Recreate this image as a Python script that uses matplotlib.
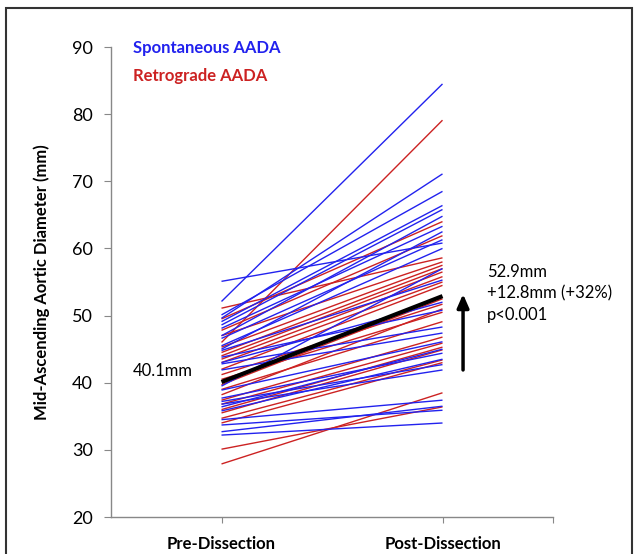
import matplotlib.pyplot as plt
from matplotlib.patches import Rectangle

# Diameters (mm), pre -> post, one pair per patient
SPONT_PRE = [55.1, 52.1, 50.1, 49.6, 49.1, 48.6, 48.1, 47.0, 46.6, 45.5, 45.0, 44.8,
             43.8, 43.0, 42.8, 41.9, 39.5, 38.9, 37.7, 37.2, 36.8, 36.4, 35.8, 34.5,
             33.7, 32.7, 32.2]
SPONT_POST = [60.8, 84.5, 68.5, 71.1, 66.4, 65.8, 63.3, 64.8, 61.3, 60.0, 62.5, 55.3,
              50.8, 52.0, 48.3, 47.4, 57.0, 46.1, 44.4, 42.7, 41.9, 45.0, 43.5, 37.4,
              35.9, 36.5, 34.0]
RETRO_PRE = [51.1, 49.5, 47.8, 47.0, 46.0, 45.3, 44.5, 44.0, 43.5, 43.0, 42.0, 41.2,
             40.5, 39.7, 39.0, 38.2, 37.4, 36.8, 36.0, 35.5, 34.7, 34.0, 30.1, 27.9]
RETRO_POST = [58.6, 64.0, 61.9, 58.0, 79.1, 57.5, 57.0, 56.5, 55.8, 55.0, 54.5, 51.7,
              50.5, 52.5, 49.1, 51.0, 46.8, 45.9, 45.3, 44.9, 43.4, 43.0, 36.4, 38.5]
MEAN_PRE = 40.1
MEAN_POST = 52.9
CATEGORIES = ["Pre-Dissection", "Post-Dissection"]
X_POS = [0.5, 1.5]

BLUE = "#2222ee"
RED = "#cc2222"
FONT = "Lato"

fig = plt.figure(figsize=(6.37, 5.54), dpi=100)
ax = fig.add_axes([111 / 637, 1 - 517 / 554, 442 / 637, 470 / 554])

for a, b in zip(RETRO_PRE, RETRO_POST):
    ax.plot(X_POS, [a, b], color=RED, lw=1.0, solid_capstyle="butt")
for a, b in zip(SPONT_PRE, SPONT_POST):
    ax.plot(X_POS, [a, b], color=BLUE, lw=1.0, solid_capstyle="butt")
ax.plot(X_POS, [MEAN_PRE, MEAN_POST], color="black", lw=3.0, solid_capstyle="butt")

ax.set_xlim(0, 2)
ax.set_ylim(20, 90)
ax.set_yticks(range(20, 91, 10))
ax.set_xticks([0.5, 1.5, 2.0])
ax.set_xticklabels(CATEGORIES + [""], fontfamily=FONT, fontweight="bold", fontsize=12)
ax.tick_params(axis="x", direction="out", length=4, pad=10, color="#888888")
ax.tick_params(axis="y", direction="out", length=5, pad=8, color="#888888", labelsize=13)
for lab in ax.get_yticklabels():
    lab.set_fontfamily(FONT)
for s in ["top", "right"]:
    ax.spines[s].set_visible(False)
for s in ["left", "bottom"]:
    ax.spines[s].set_color("#888888")
    ax.spines[s].set_linewidth(1.0)
ax.set_ylabel("Mid-Ascending Aortic Diameter (mm)", fontfamily=FONT, fontweight="bold",
              fontsize=12, labelpad=16)

ax.text(0.1, 89.8, "Spontaneous AADA", color=BLUE, fontfamily=FONT, fontweight="bold",
        fontsize=12, va="center")
ax.text(0.1, 85.7, "Retrograde AADA", color=RED, fontfamily=FONT, fontweight="bold",
        fontsize=12, va="center")

ax.text(0.1, MEAN_PRE + 1.7, f"{MEAN_PRE}mm", fontfamily=FONT, fontsize=12, va="center")
ax.text(1.7, 53.3, f"{MEAN_POST}mm\n+{MEAN_POST - MEAN_PRE:.1f}mm (+32%)\np<0.001",
        fontfamily=FONT, fontsize=12, va="center", linespacing=1.4)
ax.annotate("", xy=(1.593, 53.2), xytext=(1.593, 41.9),
            arrowprops=dict(arrowstyle="-|>,head_width=0.35,head_length=0.8",
                            color="black", lw=2.5, shrinkA=0, shrinkB=0))

fig.patches.append(Rectangle((6 / 637, -0.05), 626 / 637, 1 - 8 / 554 + 0.05,
                             transform=fig.transFigure, fill=False,
                             edgecolor="#333333", lw=1.5))

fig.savefig("out.png", dpi=100)
